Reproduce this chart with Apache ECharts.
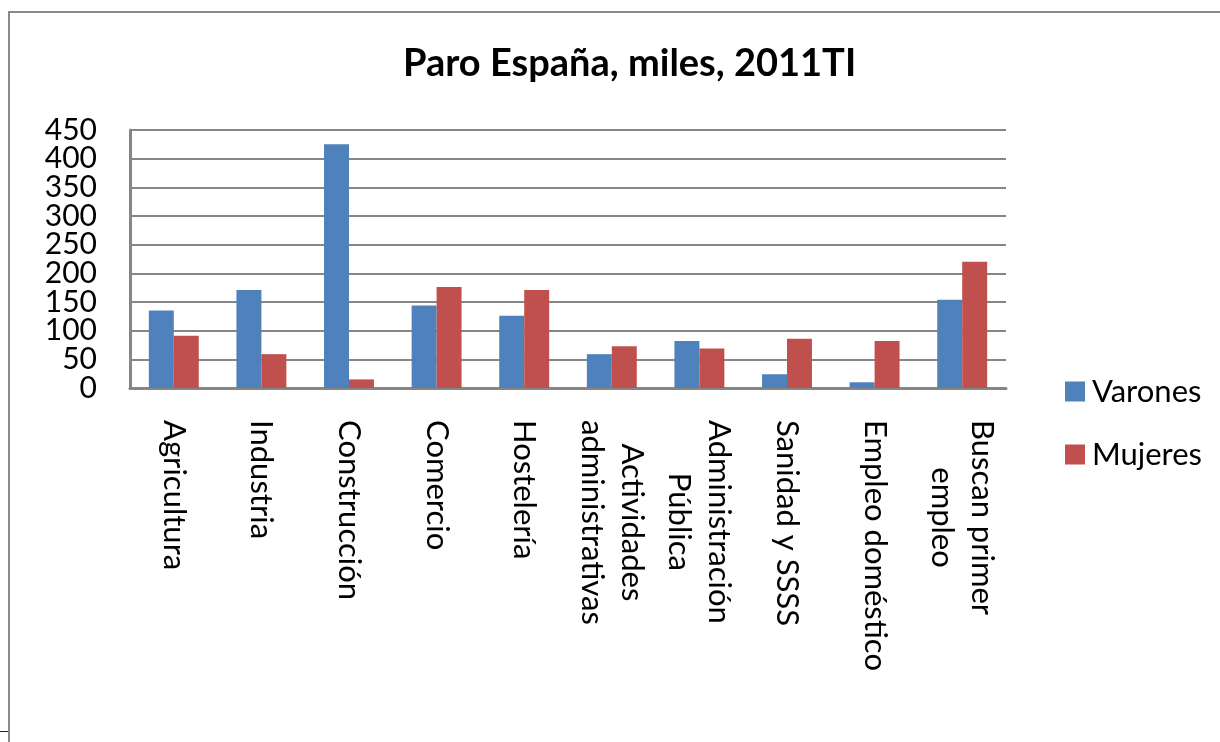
<!DOCTYPE html>
<html>
<head>
<meta charset="utf-8">
<script src="https://cdn.jsdelivr.net/npm/echarts@6/dist/echarts.min.js"></script>
<style>
html,body{margin:0;padding:0;background:#fff;}
#wrap{position:relative;width:1220px;height:742px;overflow:hidden;}
#chart{position:absolute;left:0;top:0;width:1220px;height:742px;}
#frameTop{position:absolute;left:8px;top:11px;width:1212px;height:0;border-top:2px solid #8a8a8a;}
#frameLeft{position:absolute;left:8px;top:11px;width:0;height:731px;border-left:2px solid #8a8a8a;}
#tick{position:absolute;left:0;top:731px;width:8px;height:0;border-top:1px solid #222;}
</style>
</head>
<body>
<div id="wrap">
<div id="chart"></div>
<div id="frameTop"></div>
<div id="frameLeft"></div>
<div id="tick"></div>
</div>
<script>
const titleText = 'Paro España, miles, 2011TI';
const categories = ['Agricultura','Industria','Construcción','Comercio','Hostelería','Actividades\nadministrativas','Administración\nPública','Sanidad y SSSS','Empleo doméstico','Buscan primer\nempleo'];
const seriesNames = ['Varones','Mujeres'];
const varones = [135, 171, 425, 144, 126, 59, 82, 24, 10, 154];
const mujeres = [91, 59, 15, 176, 171, 73, 69, 86, 82, 220];
const yTicks = [0, 450, 50];

const FONT = 'Lato';
const yLabelStyle = {margin: 33, fontFamily: FONT, fontSize: 30, lineHeight: 24, color: '#000', minMargin: 0, hideOverlap: false};
const chart = echarts.init(document.getElementById('chart'), null, {renderer:'canvas'});
chart.setOption({
  backgroundColor: '#ffffff',
  animation: false,
  title: {
    text: titleText, left: 398, top: 40,
    textStyle: {fontFamily: FONT, fontWeight: 'bold', fontSize: 38, color: '#000'}
  },
  legend: {
    orient: 'vertical', left: 1060, top: 371,
    itemWidth: 20, itemHeight: 20, itemGap: 32, icon: 'rect',
    textStyle: {fontFamily: FONT, fontSize: 31, color: '#000', padding:[0,0,0,2]},
    data: seriesNames
  },
  grid: {left: 130, right: 214, top: 130, bottom: 354, containLabel: false},
  xAxis: {
    type: 'category', data: categories,
    axisLine: {lineStyle: {color: '#868686', width: 3}},
    axisTick: {show: false},
    axisLabel: {
      rotate: -90, margin: 32, interval: 0, align: 'left',
      fontFamily: FONT, fontSize: 31, color: '#000', lineHeight: 40,
      formatter: function (v) { return v.split('\n').map(function (s) { return '{c|' + s + '}'; }).join('\n'); },
      rich: {c: {align: 'center', fontFamily: FONT, fontSize: 31, color: '#000', lineHeight: 40}}
    }
  },
  yAxis: [
    {
      type: 'value', position: 'left', min: yTicks[0], max: yTicks[1], interval: yTicks[2],
      axisLine: {show: true, lineStyle: {color: '#868686', width: 3}},
      axisTick: {show: false},
      splitLine: {lineStyle: {color: '#868686', width: 2}},
      axisLabel: Object.assign({showMinLabel: false, showMaxLabel: false}, yLabelStyle)
    },
    {
      type: 'value', position: 'left', min: yTicks[0], max: yTicks[1], interval: yTicks[1] - yTicks[0],
      axisLine: {show: false}, axisTick: {show: false}, splitLine: {show: false},
      axisLabel: Object.assign({showMinLabel: true, showMaxLabel: true}, yLabelStyle)
    }
  ],
  series: [
    {name: seriesNames[0], type: 'bar', data: varones, barGap: '0%', barCategoryGap: '43%', itemStyle: {color: '#4F81BD'}},
    {name: seriesNames[1], type: 'bar', data: mujeres, itemStyle: {color: '#C0504D'}}
  ]
});
</script>
</body>
</html>
